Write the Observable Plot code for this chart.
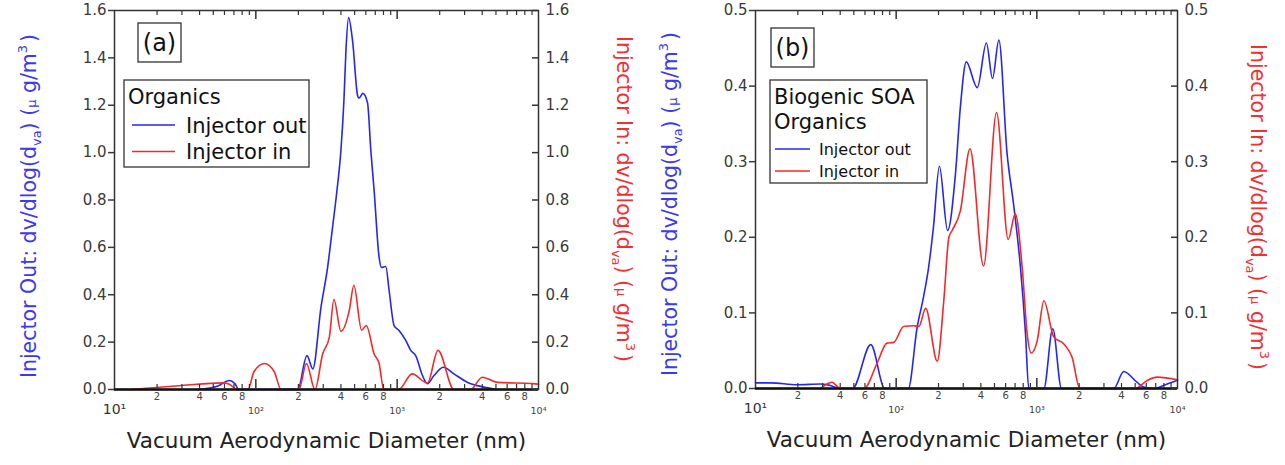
<!DOCTYPE html>
<html>
<head>
<meta charset="utf-8">
<script src="https://cdn.jsdelivr.net/npm/d3@7"></script>
<script src="https://cdn.jsdelivr.net/npm/@observablehq/plot@0.6"></script>
<style>
  body { margin: 0; background: #fff; }
  #charts { display: flex; width: 1285px; height: 465px; }
  #charts svg { font-family: "DejaVu Sans", sans-serif; }
</style>
</head>
<body>
<div id="charts"></div>
<script>
// Size distributions, dv/dlog(dva) in µg/m3 versus vacuum aerodynamic diameter (nm)

// (a) Organics
const diamOutA = [39, 54, 65, 71, 76, 198, 230, 253, 289, 322, 349, 375, 400, 420, 434, 453, 484, 525, 536, 572, 617, 651, 687, 745, 775, 831, 877, 951, 1031, 1150, 1248, 1352, 1510, 1637, 1821, 2123, 2522, 3133, 4104, 5102];
const massOutA = [0, 0.015, 0.038, 0.025, 0, 0, 0.143, 0.087, 0.347, 0.516, 0.685, 0.84, 1.01, 1.22, 1.43, 1.57, 1.47, 1.24, 1.23, 1.25, 1.21, 1.01, 0.84, 0.558, 0.515, 0.519, 0.418, 0.27, 0.249, 0.207, 0.165, 0.143, 0.059, 0.024, 0.059, 0.094, 0.066, 0.031, 0.01, 0];
const diamInA = [13, 30, 58, 65, 74, 88, 97, 115, 135, 151, 202, 228, 262, 297, 331, 357, 400, 458, 494, 560, 605, 687, 745, 804, 1026, 1277, 1637, 1945, 2522, 3304, 4000, 5129, 9204, 10000];
const massInA = [0, 0.017, 0.028, 0.022, 0, 0, 0.075, 0.11, 0.075, 0, 0, 0.11, 0, 0.15, 0.22, 0.38, 0.246, 0.333, 0.44, 0.25, 0.27, 0.15, 0.11, 0, 0, 0.066, 0.027, 0.165, 0, 0, 0.052, 0.03, 0.025, 0.022];

// (b) Biogenic SOA organics
const diamOutB = [10, 12.8, 19.8, 29, 34, 40, 49, 66, 83, 122, 141, 156, 170, 184, 203, 232, 264, 286, 315, 377, 438, 484, 537, 615, 682, 765, 831, 876, 1122, 1298, 1497, 3524, 4151, 5168, 5728, 6749, 8450, 10000];
const massOutB = [0.0075, 0.0075, 0.005, 0.006, 0.004, 0, 0, 0.058, 0, 0, 0.081, 0.12, 0.16, 0.213, 0.294, 0.209, 0.284, 0.372, 0.432, 0.398, 0.457, 0.41, 0.461, 0.31, 0.245, 0.16, 0.072, 0, 0, 0.079, 0, 0, 0.0225, 0.008, 0.002, 0, 0.006, 0.011];
const diamInB = [29, 35, 40, 59, 73, 86, 96, 113, 133, 145, 162, 196, 218, 237, 250, 286, 335, 418, 517, 626, 702, 787, 854, 912, 1006, 1122, 1320, 1556, 1783, 2020, 5025, 6093, 7171, 10000];
const massInB = [0, 0.0083, 0, 0, 0.033, 0.06, 0.061, 0.082, 0.083, 0.082, 0.106, 0.036, 0.116, 0.2, 0.209, 0.235, 0.317, 0.162, 0.365, 0.197, 0.231, 0.16, 0.072, 0.047, 0.063, 0.116, 0.068, 0.059, 0.041, 0, 0, 0.0106, 0.015, 0.0115];

// Axis ticks and labels
const yTicksA = [0, 0.2, 0.4, 0.6, 0.8, 1.0, 1.2, 1.4, 1.6];
const yTicksB = [0, 0.1, 0.2, 0.3, 0.4, 0.5];
const decades = [10, 100, 1000, 10000];
const decadeLabels = ["10¹", "10²", "10³", "10⁴"];
const minorMultipliers = [2, 3, 4, 5, 6, 7, 8, 9];
const labelledMultipliers = [2, 4, 6, 8];
const xTitle = "Vacuum Aerodynamic Diameter (nm)";
const seriesNames = ["Injector out", "Injector in"];

const BLUE = "#2626f2";
const RED = "#f22a2a";
const BLUE_TEXT = "#3a3aee";
const RED_TEXT = "#f23030";
const AXIS = "#333";
const H = 465;

const minorTicks = decades.slice(0, 3).flatMap(b => minorMultipliers.map(m => m * b));
const labelTicks = decades.slice(0, 3).flatMap(b => labelledMultipliers.map(m => m * b));
const mantissa = d => String(Math.round(d / 10 ** Math.floor(Math.log10(d) + 1e-9)));
const decadeLabel = new Map(decades.map((d, i) => [d, decadeLabels[i]]));

function panel({width, marginLeft, marginRight, marginBottom, yMax, yTicks, outD, outV, inD, inV}) {
  const marginTop = 10;
  const plotW = width - marginLeft - marginRight;
  const plotH = H - marginTop - marginBottom;
  const outRows = outD.map((d, i) => ({d, v: outV[i]}));
  const inRows = inD.map((d, i) => ({d, v: inV[i]}));
  const fmt = d3.format(".1f");
  // tick lengths expressed in data units of each scale
  const yPerPx = yMax / plotH;
  const xStep = px => 10 ** (px * 3 / plotW);
  const xMax = decades[3];
  return Plot.plot({
    width, height: H, marginLeft, marginRight, marginTop, marginBottom,
    style: {fontFamily: "DejaVu Sans, sans-serif", background: "white", color: AXIS, overflow: "visible"},
    x: {type: "log", domain: [decades[0], xMax], axis: null},
    y: {domain: [0, yMax]},
    marks: [
      Plot.line(outRows, {x: "d", y: "v", stroke: BLUE, strokeWidth: 1.6, curve: "monotone-x"}),
      Plot.line(inRows, {x: "d", y: "v", stroke: RED, strokeWidth: 1.6, curve: "monotone-x"}),
      Plot.frame({stroke: AXIS, strokeWidth: 1.5}),
      Plot.ruleY([0], {stroke: "#111", strokeWidth: 2.5}),
      // y axes: outward ticks on the left, inward ticks on the right
      Plot.axisY({anchor: "left", ticks: yTicks, tickFormat: fmt, tickSize: 6, tickPadding: 2, fontSize: 15, strokeWidth: 1.5, label: null, color: "#3a3a3a"}),
      Plot.axisY({anchor: "right", ticks: yTicks, tickFormat: fmt, tickSize: 0, tickPadding: 7, fontSize: 15, label: null, color: "#3a3a3a"}),
      Plot.ruleY(yTicks, {x1: xMax / xStep(6), x2: xMax, stroke: AXIS, strokeWidth: 1.5}),
      // log ticks pointing inward, bottom and top
      Plot.ruleX(minorTicks, {y1: 0, y2: 5 * yPerPx, stroke: AXIS, strokeWidth: 1.2}),
      Plot.ruleX(decades.slice(1, 3), {y1: 0, y2: 10 * yPerPx, stroke: AXIS, strokeWidth: 1.5}),
      Plot.ruleX(minorTicks, {y1: yMax - 5 * yPerPx, y2: yMax, stroke: AXIS, strokeWidth: 1.2}),
      Plot.ruleX(decades.slice(1, 3), {y1: yMax - 9 * yPerPx, y2: yMax, stroke: AXIS, strokeWidth: 1.5}),
      // x tick labels: mantissas, then decades
      Plot.text(labelTicks, {x: d => d, text: mantissa, frameAnchor: "bottom", dy: 10, fontSize: 10, fill: "#444"}),
      Plot.text(decades.slice(1), {x: d => d, text: d => decadeLabel.get(d), frameAnchor: "bottom", dy: 24, fontSize: 9.5, fill: "#444"}),
      Plot.text(decades.slice(0, 1), {x: d => d, text: d => decadeLabel.get(d), frameAnchor: "bottom", dy: 24, fontSize: 14, fill: "#333"}),
      Plot.text([xTitle], {frameAnchor: "bottom", dy: 58, fontSize: 21.5, fill: "#222"})
    ]
  });
}

// Rotated y-axis title with subscript "va" and superscript "3"
function yTitle(svg, cx, cy, angle, color, name) {
  const fs = 20.5;
  const t = d3.select(svg).append("text")
    .attr("transform", `translate(${cx},${cy}) rotate(${angle})`)
    .attr("y", fs * 0.36)
    .attr("text-anchor", "middle")
    .attr("fill", color)
    .attr("font-size", fs);
  t.append("tspan").text(`${name}: dv/dlog(d`);
  t.append("tspan").attr("font-size", 13).attr("dy", 5).text("va");
  t.append("tspan").attr("dy", -5).text(") (");
  t.append("tspan").attr("font-size", 13).text("µ");
  t.append("tspan").text(" g/m");
  t.append("tspan").attr("font-size", 13).attr("dy", -9).text("3");
  t.append("tspan").attr("dy", 9).attr("dx", 3).text(")");
}

function boxedTag(svg, x, y, w, h, label) {
  const g = d3.select(svg).append("g");
  g.append("rect").attr("x", x).attr("y", y).attr("width", w).attr("height", h)
    .attr("fill", "white").attr("stroke", AXIS).attr("stroke-width", 1.3);
  g.append("text").attr("x", x + w / 2).attr("y", y + h / 2).attr("dy", "0.36em")
    .attr("text-anchor", "middle").attr("font-size", 24).attr("fill", "#111").text(label);
}

function legend(svg, {x, y, w, h, titles, titleSize, titleStep, rowsY, itemSize, lineX, lineW, textX}) {
  const g = d3.select(svg).append("g").attr("text-anchor", "start");
  g.append("rect").attr("x", x).attr("y", y).attr("width", w).attr("height", h)
    .attr("fill", "white").attr("stroke", AXIS).attr("stroke-width", 1.3);
  titles.forEach((s, i) => g.append("text").attr("x", x + 4).attr("y", y + 24 + i * titleStep)
    .attr("text-anchor", "start").attr("font-size", titleSize).attr("fill", "#111").text(s));
  [BLUE, RED].forEach((c, i) => {
    g.append("line").attr("x1", lineX).attr("x2", lineX + lineW).attr("y1", rowsY[i]).attr("y2", rowsY[i])
      .attr("stroke", c).attr("stroke-width", 1.5);
    g.append("text").attr("x", textX).attr("y", rowsY[i]).attr("dy", "0.36em")
      .attr("text-anchor", "start").attr("font-size", itemSize).attr("fill", "#111").text(seriesNames[i]);
  });
}

const root = document.getElementById("charts");

const svgA = panel({width: 642, marginLeft: 114, marginRight: 104, marginBottom: 76, yMax: 1.6, yTicks: yTicksA,
  outD: diamOutA, outV: massOutA, inD: diamInA, inV: massInA});
boxedTag(svgA, 138, 23, 43, 39, "(a)");
legend(svgA, {x: 124, y: 80, w: 185, h: 87, titles: ["Organics"], titleSize: 21, titleStep: 25,
  rowsY: [125, 151.5], itemSize: 21, lineX: 132, lineW: 43, textX: 186});
yTitle(svgA, 29, 206, -90, BLUE_TEXT, "Injector Out");
yTitle(svgA, 624, 199, 90, RED_TEXT, "Injector In");
root.appendChild(svgA);

const svgB = panel({width: 643, marginLeft: 113, marginRight: 108, marginBottom: 77, yMax: 0.5, yTicks: yTicksB,
  outD: diamOutB, outV: massOutB, inD: diamInB, inV: massInB});
boxedTag(svgB, 129, 28, 43, 39, "(b)");
legend(svgB, {x: 128, y: 80, w: 157, h: 103, titles: ["Biogenic SOA", "Organics"], titleSize: 21, titleStep: 25,
  rowsY: [149, 171], itemSize: 16, lineX: 133, lineW: 35, textX: 177});
yTitle(svgB, 28, 204, -90, BLUE_TEXT, "Injector Out");
yTitle(svgB, 616, 207, 90, RED_TEXT, "Injector In");
root.appendChild(svgB);
</script>
</body>
</html>
